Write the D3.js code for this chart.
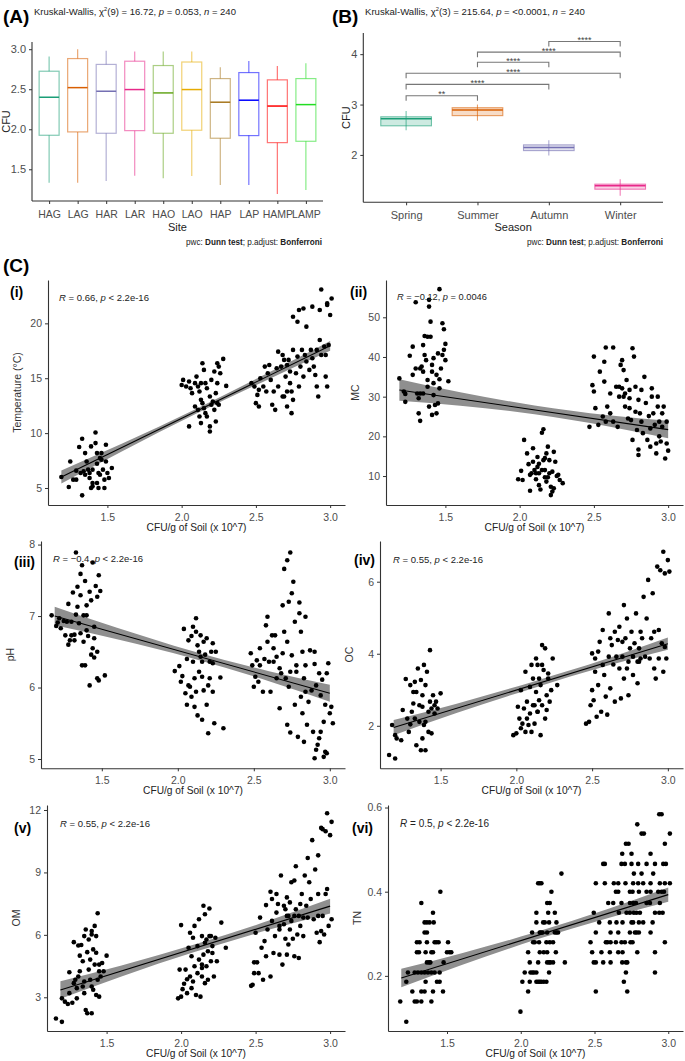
<!DOCTYPE html>
<html><head><meta charset="utf-8">
<script src="https://cdn.jsdelivr.net/npm/d3@7"></script>
<style>body{margin:0;background:#fff}svg{display:block}text{font-family:"Liberation Sans Narrow","Liberation Sans",Arial,sans-serif}</style>
</head><body><svg id="c" width="685" height="1061"></svg>
<script>
// ---------- Panel A data ----------
const sites = ["HAG","LAG","HAR","LAR","HAO","LAO","HAP","LAP","HAMP","LAMP"];
const siteColors = ["#1b9e77","#d95f02","#7570b3","#e7298a","#66a61e","#e6ab02","#a6761d","#0000ff","#ff0000","#22dd22"];
const siteLow  = [1.333,1.333,1.354,1.42,1.387,1.417,1.304,1.304,1.19,1.242];
const siteQ1   = [1.925,1.967,1.95,1.983,1.95,1.988,1.888,1.921,1.833,1.85];
const siteMed  = [2.40,2.52,2.475,2.496,2.454,2.496,2.338,2.363,2.29,2.308];
const siteQ3   = [2.725,2.883,2.81,2.85,2.796,2.84,2.633,2.708,2.617,2.633];
const siteHigh = [2.908,3.0,2.98,2.97,2.97,2.97,2.775,2.854,2.79,2.825];
const siteTicks = [1.5,2.0,2.5,3.0];

// ---------- Panel B data ----------
const seasons = ["Spring","Summer","Autumn","Winter"];
const seasonColors = ["#1b9e77","#d95f02","#7570b3","#e7298a"];
const seasonLow  = [2.49,2.68,1.99,1.19];
const seasonQ1   = [2.578,2.78,2.086,1.32];
const seasonMed  = [2.717,2.89,2.146,1.39];
const seasonQ3   = [2.757,2.937,2.2,1.42];
const seasonHigh = [2.87,3.0,2.29,1.515];
const seasonTicks = [2,3,4];
const brackets = [["Spring","Summer",3.176,"**"],["Spring","Autumn",3.40,"****"],["Spring","Winter",3.62,"****"],["Summer","Autumn",3.84,"****"],["Summer","Winter",4.04,"****"],["Autumn","Winter",4.25,"****"]];

// ---------- Panel C data ----------
const cfuTicks = [1.5,2.0,2.5,3.0];
const tempPts = [[1.19,6.0],[1.24,5.09],[1.25,7.42],[1.29,6.58],[1.31,8.73],[1.33,9.48],[1.33,4.33],[1.35,8.18],[1.36,7.42],[1.37,6.67],[1.38,6.36],[1.38,5.91],[1.39,8.79],[1.40,5.45],[1.40,6.67],[1.42,10.06],[1.42,9.09],[1.43,8.18],[1.43,7.21],[1.44,6.36],[1.44,5.0],[1.45,6.21],[1.46,7.58],[1.47,6.67],[1.48,5.76],[1.49,8.94],[1.49,7.42],[1.50,6.36],[1.51,5.91],[1.53,6.82],[1.32,6.36],[1.34,6.52],[1.29,5.76],[1.27,5.76],[1.35,6.21],[1.40,5.15],[1.43,5.45],[1.39,5.0],[1.48,5.0],[1.45,7.73],[1.46,8.18],
[2.0,14.39],[2.01,14.85],[2.03,14.24],[2.05,14.7],[2.06,14.09],[2.07,13.64],[2.09,14.55],[2.10,15.15],[2.11,14.24],[2.12,13.79],[2.13,14.55],[2.14,16.36],[2.15,15.76],[2.16,14.55],[2.17,14.09],[2.19,13.33],[2.20,14.85],[2.22,15.61],[2.24,16.36],[2.25,16.06],[2.26,15.45],[2.28,16.76],[2.30,14.3],[2.24,14.55],[2.23,13.64],[2.05,10.61],[2.11,12.12],[2.12,11.52],[2.13,10.91],[2.14,12.73],[2.15,12.27],[2.16,11.82],[2.17,11.52],[2.19,10.61],[2.19,10.15],[2.20,12.58],[2.21,12.88],[2.22,12.12],[2.23,11.06],[2.24,12.73],[2.25,12.58],[2.13,13.03],[2.09,12.42],
[2.47,14.55],[2.49,14.24],[2.50,12.73],[2.51,13.48],[2.52,12.42],[2.53,15.0],[2.55,14.24],[2.57,13.79],[2.58,15.45],[2.59,16.21],[2.60,14.85],[2.61,12.58],[2.62,13.79],[2.63,12.12],[2.64,15.91],[2.65,14.24],[2.67,16.06],[2.68,17.12],[2.69,13.33],[2.70,15.15],[2.71,12.42],[2.72,16.67],[2.73,14.55],[2.74,13.79],[2.75,13.03],[2.77,15.45],[2.78,16.97],[2.75,20.6],[2.79,21.21],[2.82,21.36],[2.88,21.52],[2.78,20.15],[2.84,19.7],[2.94,23.09],[2.93,21.21],[2.98,21.67],[3.01,22.27],[3.0,20.76],[2.98,21.82],[2.79,14.24],[2.80,16.06],[2.81,17.58],[2.82,15.15],[2.83,17.12],[2.84,16.52],[2.86,15.76],[2.87,17.58],[2.88,16.82],[2.89,16.06],[2.90,15.3],[2.91,17.58],[2.91,14.24],[2.92,13.33],[2.93,18.48],[2.94,17.12],[2.96,17.88],[2.97,15.15],[2.97,17.12],[2.98,14.24],[2.99,18.03],[2.73,15.61],[2.71,16.21],[2.69,16.67],[2.65,17.42],[2.75,17.58],[2.71,13.79],[2.68,13.33],[2.74,11.82],[2.56,16.06],[2.52,13.94]];
const mcPts = [[1.19,34.6],[1.22,31.3],[1.23,30.7],[1.23,28.7],[1.28,35.5],[1.28,42.6],[1.26,40.3],[1.30,53.8],[1.30,37.1],[1.31,30.8],[1.32,29.6],[1.32,25.8],[1.33,23.9],[1.33,37.1],[1.34,37.6],[1.35,36.3],[1.35,43.0],[1.36,45.3],[1.36,40.5],[1.37,39.2],[1.38,34.2],[1.38,32.5],[1.39,52.7],[1.39,54.4],[1.40,45.1],[1.40,48.9],[1.41,38.0],[1.41,36.3],[1.42,33.4],[1.42,30.4],[1.43,27.9],[1.39,27.5],[1.41,25.4],[1.44,25.8],[1.44,35.5],[1.45,40.9],[1.46,57.1],[1.46,34.4],[1.46,32.1],[1.47,37.1],[1.48,40.5],[1.48,48.5],[1.49,47.0],[1.49,41.8],[1.50,39.2],[1.50,43.3],[1.52,33.9],[1.45,28.3],[1.35,30.8],[1.38,45.1],[1.33,30.8],[1.42,39.7],
[1.99,9.2],[2.02,9.0],[2.03,19.1],[2.01,11.3],[2.05,15.7],[2.06,13.0],[2.07,10.3],[2.07,6.3],[2.09,17.0],[2.09,13.6],[2.10,11.5],[2.11,9.2],[2.12,14.8],[2.12,12.3],[2.13,10.7],[2.13,7.7],[2.14,6.6],[2.15,20.9],[2.16,21.8],[2.16,14.0],[2.17,11.5],[2.17,9.7],[2.18,8.6],[2.18,15.7],[2.19,17.4],[2.20,14.0],[2.20,10.7],[2.21,7.3],[2.21,5.2],[2.22,6.1],[2.22,11.1],[2.23,6.9],[2.23,16.1],[2.24,13.6],[2.25,10.0],[2.26,10.3],[2.27,9.0],[2.29,8.2],[2.17,14.5],[2.13,13.1],[2.11,10.7],[2.08,10.7],[2.19,9.7],[2.15,11.5],
[2.47,22.4],[2.49,32.9],[2.50,31.3],[2.50,40.1],[2.51,27.1],[2.53,22.9],[2.54,36.3],[2.56,25.0],[2.57,33.8],[2.58,23.7],[2.59,27.5],[2.61,30.8],[2.61,25.8],[2.63,23.7],[2.58,42.4],[2.63,42.4],[2.65,32.5],[2.66,22.4],[2.67,30.0],[2.76,42.2],[2.69,32.1],[2.69,39.2],[2.70,36.7],[2.71,27.5],[2.72,34.2],[2.73,24.5],[2.74,31.7],[2.74,29.6],[2.75,24.1],[2.76,19.1],[2.77,40.1],[2.78,32.5],[2.78,26.2],[2.79,21.6],[2.80,16.7],[2.80,15.3],[2.80,29.2],[2.81,25.8],[2.82,31.7],[2.82,23.7],[2.83,20.8],[2.84,35.0],[2.85,28.4],[2.86,19.1],[2.87,25.1],[2.88,22.0],[2.88,17.4],[2.89,30.0],[2.89,32.1],[2.90,25.8],[2.91,22.9],[2.92,18.2],[2.92,15.7],[2.93,27.5],[2.93,30.0],[2.94,23.7],[2.94,20.0],[2.95,18.7],[2.96,25.8],[2.96,22.4],[2.97,27.5],[2.98,14.4],[2.99,18.2],[2.99,23.7],[3.00,16.4],[2.68,38.0],[2.57,38.8],[2.71,30.8],[2.74,27.1],[2.70,30.0],[2.67,32.5]];
const phPts = [[1.17,7.01],[1.20,6.86],[1.21,6.91],[1.22,6.97],[1.23,6.83],[1.25,6.93],[1.26,6.73],[1.27,6.92],[1.28,7.17],[1.28,6.6],[1.29,6.66],[1.30,6.92],[1.31,7.33],[1.32,6.66],[1.32,6.74],[1.33,7.89],[1.33,7.02],[1.34,7.41],[1.34,7.13],[1.35,6.9],[1.36,7.59],[1.36,7.29],[1.37,6.31],[1.37,7.71],[1.38,6.64],[1.38,7.01],[1.39,7.49],[1.39,6.31],[1.40,7.15],[1.40,6.8],[1.41,6.72],[1.42,6.03],[1.42,7.34],[1.43,6.46],[1.43,7.22],[1.44,6.55],[1.44,7.75],[1.45,6.85],[1.45,6.42],[1.46,7.42],[1.47,6.13],[1.47,7.27],[1.48,7.57],[1.48,6.1],[1.49,7.35],[1.47,6.5],[1.52,6.17],[1.40,7.01],[1.36,6.76],[1.30,6.73],[1.45,6.69],
[1.98,6.23],[2.01,6.3],[2.02,6.08],[2.03,6.16],[2.04,6.82],[2.05,5.92],[2.06,5.76],[2.06,6.4],[2.07,6.66],[2.07,6.03],[2.08,6.01],[2.09,5.87],[2.09,6.72],[2.10,6.36],[2.10,6.85],[2.11,5.73],[2.11,6.13],[2.12,6.97],[2.12,6.78],[2.13,5.61],[2.14,6.5],[2.14,6.22],[2.15,6.73],[2.15,6.43],[2.16,5.55],[2.16,6.15],[2.17,6.64],[2.17,5.96],[2.18,6.46],[2.19,6.69],[2.19,5.76],[2.20,6.03],[2.20,5.36],[2.21,6.36],[2.21,6.13],[2.22,6.5],[2.23,6.62],[2.23,5.94],[2.23,6.34],[2.24,5.5],[2.25,6.5],[2.28,6.14],[2.30,5.43],[2.12,5.94],[2.16,6.36],[2.13,6.59],
[2.48,6.48],[2.49,6.31],[2.50,6.01],[2.51,6.15],[2.52,6.38],[2.53,6.08],[2.54,6.55],[2.54,6.31],[2.56,5.94],[2.57,6.4],[2.58,6.87],[2.59,6.99],[2.59,6.64],[2.60,6.36],[2.61,5.94],[2.62,6.73],[2.63,6.55],[2.63,6.36],[2.64,6.73],[2.65,6.13],[2.65,6.43],[2.67,6.27],[2.67,5.71],[2.68,6.2],[2.69,6.48],[2.69,7.15],[2.70,7.66],[2.70,6.78],[2.71,6.13],[2.72,5.48],[2.72,7.78],[2.73,6.01],[2.73,7.2],[2.74,5.37],[2.74,7.89],[2.75,7.32],[2.75,6.45],[2.76,7.48],[2.77,6.92],[2.77,5.76],[2.78,6.22],[2.78,6.31],[2.79,5.31],[2.80,7.04],[2.80,7.19],[2.81,5.87],[2.81,6.78],[2.82,6.5],[2.82,5.64],[2.83,6.13],[2.83,5.24],[2.84,5.94],[2.84,6.31],[2.85,5.48],[2.86,5.8],[2.87,6.52],[2.88,5.96],[2.89,5.38],[2.90,5.01],[2.90,6.33],[2.91,6.03],[2.91,5.13],[2.92,5.2],[2.93,6.2],[2.93,5.29],[2.94,5.89],[2.94,5.38],[2.95,6.11],[2.96,5.03],[2.96,5.52],[2.97,5.76],[2.97,5.1],[2.98,6.2],[2.98,5.08],[2.99,6.34],[3.00,5.64],[3.01,5.73],[3.02,5.5],[2.84,6.99],[2.90,6.5],[2.72,6.64],[2.74,6.22]];
const ocPts = [[1.16,1.19],[1.20,1.09],[1.18,2.02],[1.20,1.74],[1.21,1.65],[1.24,1.6],[1.25,2.44],[1.27,3.3],[1.28,2.2],[1.29,1.83],[1.30,2.04],[1.30,3.13],[1.31,2.39],[1.32,2.62],[1.33,2.2],[1.33,3.22],[1.34,2.94],[1.34,1.46],[1.35,3.59],[1.36,2.57],[1.36,2.11],[1.37,3.27],[1.37,1.32],[1.38,2.85],[1.38,2.53],[1.39,2.02],[1.39,3.69],[1.40,1.32],[1.40,3.13],[1.41,3.5],[1.42,2.39],[1.42,1.83],[1.43,2.67],[1.43,4.1],[1.44,1.79],[1.44,2.48],[1.45,2.85],[1.46,2.34],[1.46,2.57],[1.47,2.67],[1.48,2.48],[1.50,2.9],[1.32,2.94],[1.38,1.65],[1.40,2.11],
[1.98,1.74],[2.0,1.79],[2.01,2.53],[2.02,2.2],[2.03,1.93],[2.03,2.99],[2.04,2.06],[2.05,2.48],[2.06,1.83],[2.06,3.5],[2.07,2.2],[2.07,2.67],[2.08,2.02],[2.09,3.08],[2.09,2.34],[2.10,1.83],[2.10,3.69],[2.11,2.57],[2.11,3.31],[2.12,2.06],[2.13,3.87],[2.13,2.94],[2.14,2.39],[2.14,3.69],[2.15,2.71],[2.15,3.31],[2.16,1.74],[2.16,3.13],[2.17,2.57],[2.17,4.24],[2.18,3.55],[2.19,2.2],[2.19,4.15],[2.20,2.85],[2.20,2.44],[2.21,3.31],[2.21,3.45],[2.22,2.67],[2.23,2.99],[2.24,3.87],[2.27,3.13],[2.17,3.69],[2.12,2.57],[2.14,2.39],
[2.46,2.06],[2.48,2.11],[2.49,2.57],[2.50,2.99],[2.50,4.01],[2.51,2.71],[2.52,3.5],[2.52,3.87],[2.53,2.25],[2.54,3.13],[2.54,4.06],[2.55,4.33],[2.56,2.39],[2.57,3.69],[2.57,4.66],[2.58,3.41],[2.59,2.81],[2.60,2.31],[2.61,3.92],[2.61,5.12],[2.62,4.43],[2.62,3.04],[2.63,4.24],[2.64,3.7],[2.65,4.61],[2.65,2.67],[2.66,3.92],[2.67,4.38],[2.68,3.59],[2.68,4.75],[2.69,2.76],[2.70,3.92],[2.71,5.35],[2.71,3.31],[2.72,4.43],[2.73,4.98],[2.73,3.59],[2.74,2.85],[2.75,4.15],[2.76,4.61],[2.77,3.41],[2.77,3.92],[2.78,4.29],[2.79,5.12],[2.80,3.78],[2.80,3.18],[2.81,4.15],[2.82,4.61],[2.82,3.87],[2.83,4.43],[2.84,5.58],[2.85,3.92],[2.86,4.98],[2.87,6.05],[2.88,3.87],[2.89,4.43],[2.90,5.68],[2.91,3.59],[2.91,4.61],[2.92,3.31],[2.93,6.42],[2.94,4.66],[2.94,3.87],[2.95,6.32],[2.96,4.29],[2.97,3.5],[2.97,6.83],[2.98,4.19],[2.98,6.23],[2.99,3.87],[3.00,6.6],[3.01,6.28],[2.81,3.78],[2.74,3.78],[2.70,4.33]];
const omPts = [[1.16,1.98],[1.20,1.82],[1.20,2.95],[1.22,2.79],[1.24,2.68],[1.25,3.2],[1.25,4.2],[1.27,2.74],[1.28,5.65],[1.28,3.68],[1.29,3.84],[1.30,2.95],[1.30,3.44],[1.31,5.49],[1.31,4.0],[1.32,5.0],[1.32,4.25],[1.33,5.51],[1.34,3.52],[1.34,4.73],[1.35,3.2],[1.35,3.76],[1.36,6.26],[1.36,2.39],[1.37,5.17],[1.37,2.23],[1.38,5.78],[1.38,4.33],[1.39,4.81],[1.39,3.84],[1.40,3.52],[1.40,2.23],[1.40,6.02],[1.41,5.3],[1.41,3.36],[1.42,6.43],[1.42,4.57],[1.43,3.11],[1.43,5.14],[1.44,7.04],[1.44,3.84],[1.45,4.25],[1.45,3.03],[1.45,4.57],[1.46,4.0],[1.47,4.65],[1.48,4.25],[1.50,5.0],[1.35,5.94],[1.40,6.18],[1.43,5.94],
[1.98,2.95],[2.0,3.03],[1.99,4.33],[2.0,6.47],[2.01,3.39],[2.02,3.65],[2.03,4.33],[2.04,3.87],[2.04,3.2],[2.05,5.38],[2.06,4.0],[2.06,6.1],[2.07,3.44],[2.07,4.97],[2.08,5.86],[2.08,3.76],[2.09,6.43],[2.09,4.49],[2.10,3.11],[2.11,5.46],[2.11,4.16],[2.12,6.75],[2.12,4.81],[2.13,3.03],[2.14,4.41],[2.14,4.0],[2.14,5.94],[2.15,7.4],[2.15,5.05],[2.16,5.62],[2.16,6.99],[2.17,4.49],[2.17,5.78],[2.18,3.84],[2.18,5.21],[2.19,5.94],[2.19,7.27],[2.20,4.73],[2.20,5.94],[2.21,5.46],[2.21,5.13],[2.22,4.0],[2.23,5.86],[2.24,4.73],[2.27,6.59],[2.30,5.38],[2.14,4.57],[2.16,3.68],
[2.47,3.55],[2.48,3.6],[2.49,4.16],[2.49,4.68],[2.50,6.1],[2.51,4.68],[2.52,4.16],[2.53,6.83],[2.54,5.38],[2.55,3.84],[2.56,5.7],[2.57,4.97],[2.57,7.43],[2.58,6.26],[2.60,8.07],[2.60,4.0],[2.61,6.67],[2.61,7.72],[2.62,5.13],[2.63,5.94],[2.64,7.96],[2.64,7.07],[2.65,7.48],[2.66,6.26],[2.66,5.05],[2.67,8.85],[2.68,4.57],[2.69,7.4],[2.69,6.51],[2.70,5.81],[2.71,5.05],[2.71,7.8],[2.72,6.91],[2.72,5.54],[2.73,6.26],[2.73,7.56],[2.74,8.53],[2.74,6.67],[2.75,5.81],[2.76,4.97],[2.76,8.61],[2.77,9.3],[2.77,7.23],[2.78,6.02],[2.79,6.91],[2.79,4.89],[2.80,6.43],[2.80,7.48],[2.81,7.96],[2.82,6.83],[2.82,5.94],[2.83,8.85],[2.84,7.4],[2.85,9.69],[2.86,8.53],[2.87,7.72],[2.88,10.55],[2.89,6.75],[2.90,9.14],[2.91,6.1],[2.92,9.82],[2.92,7.96],[2.93,5.65],[2.94,11.14],[2.95,6.91],[2.95,11.08],[2.96,6.02],[2.97,7.96],[2.97,10.98],[2.98,8.2],[2.98,11.84],[2.99,6.43],[3.00,10.79],[3.01,11.43],[3.01,6.75],[2.76,6.91],[2.71,6.91],[2.70,7.23],[2.66,6.43],[2.85,6.83],[2.92,6.91],[2.94,6.18]];
// TN rows: [TN value, CFU values]
const tnRows = [
 [0.584,[2.939,2.955]],[0.56,[2.79]],[0.538,[2.819,2.835,3.011]],[0.514,[2.713,2.731,2.977]],[0.49,[2.688,2.751,2.88]],
 [0.466,[2.559,2.57,2.683,2.706,2.751,2.796,2.853,2.91,2.966,2.984]],[0.443,[2.276,2.767,2.819,2.898]],
 [0.42,[2.118,2.129,2.14,2.509,2.57,2.631,2.661,2.71,2.762,2.796,2.83,2.88,2.943,2.977,3.011]],
 [0.40,[1.455,2.208,2.645,2.661,2.74,2.758,2.801,2.853,2.88,2.932,2.955,2.971]],
 [0.373,[1.326,2.179,2.197,2.593,2.627,2.683,2.74,2.762,2.781,2.853,2.876,2.943]],
 [0.35,[1.405,2.106,2.186,2.231,2.495,2.665,2.717,2.74,2.767,2.785,2.808,2.91,2.939,2.962]],
 [0.327,[1.348,1.364,1.382,1.41,2.106,2.152,2.163,2.192,2.242,2.532,2.604,2.649,2.69,2.751,2.762,2.801,2.83,2.894]],
 [0.303,[1.348,1.364,2.077,2.129,2.136,2.147,2.179,2.231,2.242,2.253,2.509,2.609,2.661,2.74,2.774,2.785,2.801,2.88]],
 [0.28,[1.296,1.314,1.364,1.416,1.428,1.443,1.507,2.084,2.095,2.124,2.174,2.197,2.219,2.473,2.577,2.588,2.609,2.645,2.683,2.706,2.744,2.758,2.977]],
 [0.256,[1.296,1.31,1.355,1.394,1.405,1.5,1.518,1.529,2.05,2.129,2.156,2.179,2.238,2.484,2.547,2.604,2.661,2.69,2.79,2.91]],
 [0.232,[1.364,1.378,1.387,1.477,2.061,2.118,2.179,2.192,2.201,2.219,2.299,2.495,2.509,2.559,2.609,2.688,2.713,2.722]],
 [0.208,[1.235,1.281,1.303,1.326,1.348,1.371,1.394,1.416,1.45,2.027,2.066,2.079,2.09,2.106,2.192,2.713,2.91]],
 [0.186,[1.224,1.355,1.432,1.45,2.011,2.061,2.106,2.118,2.129,2.14,2.156,2.174,2.699]],
 [0.163,[1.265,1.326,1.348,1.405,1.473,2.05,2.509,2.722]],
 [0.139,[1.183,1.281,1.296,1.326,1.394]],[0.115,[1.998]],[0.091,[1.224]]
];

// Fitted lines (value at CFU 1.19 and 3.0) and CI half-widths at ciX
const ciX = [1.19,1.6,2.1,2.6,3.0];
const fits = {
  temp:{y0:6.0,y1:17.95,ci:[0.6,0.35,0.22,0.3,0.45]},
  mc:{y0:31.7,y1:21.7,ci:[2.7,1.7,1.1,1.4,2.2]},
  ph:{y0:7.0,y1:5.92,ci:[0.13,0.08,0.05,0.07,0.12]},
  oc:{y0:1.95,y1:4.28,ci:[0.21,0.13,0.09,0.1,0.17]},
  om:{y0:3.35,y1:7.38,ci:[0.42,0.26,0.18,0.22,0.35]},
  tn:{y0:0.195,y1:0.393,ci:[0.022,0.014,0.009,0.011,0.017]}
};

const svg = d3.select("#c");
const AXC = "#333", TKC = "#4d4d4d";

// shrink/grow a text's font-size so its width matches the target (capped)
function fitWidth(t, target, maxFs){
  const w = t.node().getComputedTextLength();
  const fs = parseFloat(t.style("font-size"));
  t.style("font-size", Math.min(maxFs, fs*target/w).toFixed(2)+"px");
}

// ============ Panel A ============
(function(){
  const L=32,R=323,T=42,B=201;
  const x = d3.scalePoint().domain(sites).range([L,R]).padding(0.6);
  const y = d3.scaleLinear().domain([1.104,3.09]).range([B,T]);
  const bw = x.step()*0.7;
  const g = svg.append("g");
  const yAx = g.append("g").attr("transform",`translate(${L},0)`).call(d3.axisLeft(y).tickValues(siteTicks).tickFormat(d3.format(".1f")).tickSize(3).tickSizeOuter(0));
  const xAx = g.append("g").attr("transform",`translate(0,${B})`).call(d3.axisBottom(x).tickSize(3).tickSizeOuter(0));
  [yAx,xAx].forEach(a=>{a.select(".domain").attr("stroke",AXC).attr("stroke-width",1.1).attr("d", a===yAx?`M0,${T}V${B}`:`M${L},0H${R}`);a.selectAll(".tick line").attr("stroke",AXC);a.selectAll("text").attr("fill",TKC).style("font-size","11px").style("font-family","Liberation Sans, Arial, sans-serif");});
  xAx.selectAll("text").attr("dy","1.0em").style("font-size","10.5px");
  sites.forEach((s,i)=>{
    const cx=x(s), c=siteColors[i];
    const gg=g.append("g");
    gg.append("line").attr("x1",cx).attr("x2",cx).attr("y1",y(siteHigh[i])).attr("y2",y(siteQ3[i])).attr("stroke",c).attr("stroke-opacity",0.55).attr("stroke-width",1.2);
    gg.append("line").attr("x1",cx).attr("x2",cx).attr("y1",y(siteQ1[i])).attr("y2",y(siteLow[i])).attr("stroke",c).attr("stroke-opacity",0.55).attr("stroke-width",1.2);
    gg.append("rect").attr("x",cx-bw/2).attr("width",bw).attr("y",y(siteQ3[i])).attr("height",y(siteQ1[i])-y(siteQ3[i])).attr("fill","none").attr("stroke",c).attr("stroke-opacity",0.55).attr("stroke-width",1.2);
    gg.append("line").attr("x1",cx-bw/2).attr("x2",cx+bw/2).attr("y1",y(siteMed[i])).attr("y2",y(siteMed[i])).attr("stroke",c).attr("stroke-width",1.5);
  });
  g.append("text").attr("x",(L+R)/2).attr("y",231).attr("text-anchor","middle").style("font-size","11px").style("font-family","Liberation Sans, Arial").attr("fill","#222").text("Site");
  g.append("text").attr("transform",`translate(10,${(T+B)/2}) rotate(-90)`).attr("text-anchor","middle").style("font-size","11px").style("font-family","Liberation Sans, Arial").attr("fill","#222").text("CFU");
})();

// ============ Panel B ============
(function(){
  const L=363.3,R=663,T=33,B=202.3;
  const x = d3.scalePoint().domain(seasons).range([L,R]).padding(0.6);
  const y = d3.scaleLinear().domain([1.06,4.42]).range([B,T]);
  const bw = x.step()*0.71;
  const g = svg.append("g");
  const yAx = g.append("g").attr("transform",`translate(${L},0)`).call(d3.axisLeft(y).tickValues(seasonTicks).tickFormat(d3.format("d")).tickSize(3).tickSizeOuter(0));
  const xAx = g.append("g").attr("transform",`translate(0,${B})`).call(d3.axisBottom(x).tickSize(3).tickSizeOuter(0));
  [yAx,xAx].forEach(a=>{a.select(".domain").attr("stroke",AXC).attr("stroke-width",1.1).attr("d", a===yAx?`M0,${T}V${B}`:`M${L},0H${R}`);a.selectAll(".tick line").attr("stroke",AXC);a.selectAll("text").attr("fill",TKC).style("font-size","11px").style("font-family","Liberation Sans, Arial, sans-serif");});
  xAx.selectAll("text").attr("dy","1.0em");
  seasons.forEach((s,i)=>{
    const cx=x(s), c=seasonColors[i];
    g.append("line").attr("x1",cx).attr("x2",cx).attr("y1",y(seasonHigh[i])).attr("y2",y(seasonLow[i])).attr("stroke",c).attr("stroke-opacity",0.6).attr("stroke-width",1.1);
    g.append("rect").attr("x",cx-bw/2).attr("width",bw).attr("y",y(seasonQ3[i])).attr("height",y(seasonQ1[i])-y(seasonQ3[i])).attr("fill",c).attr("fill-opacity",0.22).attr("stroke",c).attr("stroke-opacity",0.6).attr("stroke-width",1.1);
    g.append("line").attr("x1",cx-bw/2).attr("x2",cx+bw/2).attr("y1",y(seasonMed[i])).attr("y2",y(seasonMed[i])).attr("stroke",c).attr("stroke-width",1.5);
  });
  brackets.forEach(([a,b,v,lab])=>{
    const yy=y(v), x1=x(a), x2=x(b);
    g.append("path").attr("d",`M${x1},${yy+5}V${yy}H${x2}V${yy+5}`).attr("fill","none").attr("stroke","#777").attr("stroke-width",1.1);
    g.append("text").attr("x",(x1+x2)/2).attr("y",yy+1.5).attr("text-anchor","middle").style("font-size","9px").style("font-family","Liberation Sans, Arial").attr("fill","#444").text(lab);
  });
  g.append("text").attr("x",(L+R)/2).attr("y",231).attr("text-anchor","middle").style("font-size","11px").style("font-family","Liberation Sans, Arial").attr("fill","#222").text("Season");
  g.append("text").attr("transform",`translate(350,${(T+B)/2}) rotate(-90)`).attr("text-anchor","middle").style("font-size","11px").style("font-family","Liberation Sans, Arial").attr("fill","#222").text("CFU");
})();

// Titles A/B/C
function chiTitle(xp, yp, df, stat, pPart, len){
  const t=svg.append("text").attr("x",xp).attr("y",yp).style("font-size","11.5px").attr("fill","#222");
  t.append("tspan").text("Kruskal-Wallis, χ");
  t.append("tspan").attr("dy",-4.5).style("font-size","0.6em").text("2");
  t.append("tspan").attr("dy",4.5).text(`(${df}) = ${stat}, `);
  t.append("tspan").style("font-style","italic").text("p");
  t.append("tspan").text(` = ${pPart}, `);
  t.append("tspan").style("font-style","italic").text("n");
  t.append("tspan").text(" = 240");
  fitWidth(t,len,11.5);
}
svg.append("text").attr("x",3).attr("y",23).style("font-size","19px").style("font-weight","bold").style("font-family","Liberation Sans, Arial").text("(A)");
chiTitle(34,15,9,"16.72","0.053",202);
svg.append("text").attr("x",332).attr("y",23).style("font-size","19px").style("font-weight","bold").style("font-family","Liberation Sans, Arial").text("(B)");
chiTitle(365,15,3,"215.64","<0.0001",220);
function pwc(xr,yp){
  const t=svg.append("text").attr("x",xr).attr("y",yp).attr("text-anchor","end").style("font-size","9px").attr("fill","#222");
  t.append("tspan").text("pwc: ");
  t.append("tspan").style("font-weight","bold").text("Dunn test");
  t.append("tspan").text("; p.adjust: ");
  t.append("tspan").style("font-weight","bold").text("Bonferroni");
  fitWidth(t,136,9);
}
pwc(322,245); pwc(663,245);
svg.append("text").attr("x",3).attr("y",272).style("font-size","19px").style("font-weight","bold").style("font-family","Liberation Sans, Arial").text("(C)");

// ============ Panel C scatter panels ============
const tnPts = tnRows.flatMap(([v,xs])=>xs.map(xv=>[xv,v]));
const panels = [
  {pts:tempPts, fit:fits.temp, L:48, R:345, T:280, B:505, yd:[3.45,23.95], yt:[5,10,15,20], yf:"d", ylab:"Temperature (°C)", tag:"(i)", tagX:10, tagY:297, rx:59, ry:301, r:"0.66", pr:"< 2.2e-16"},
  {pts:mcPts, fit:fits.mc, L:386, R:683, T:280, B:505, yd:[2.7,59.4], yt:[10,20,30,40,50], yf:"d", ylab:"MC", tag:"(ii)", tagX:350, tagY:297, rx:397, ry:300, r:"−0.12", pr:"= 0.0046"},
  {pts:phPts, fit:fits.ph, L:41, R:345, T:541, B:768.3, yd:[4.87,8.05], yt:[5,6,7,8], yf:"d", ylab:"pH", tag:"(iii)", tagX:14, tagY:567, rx:53, ry:562, r:"−0.4", pr:"< 2.2e-16"},
  {pts:ocPts, fit:fits.oc, L:380, R:683, T:541, B:768.3, yd:[0.82,7.13], yt:[2,4,6], yf:"d", ylab:"OC", tag:"(iv)", tagX:354, tagY:565, rx:393, ry:563, r:"0.55", pr:"< 2.2e-16"},
  {pts:omPts, fit:fits.om, L:47, R:345, T:805, B:1031, yd:[1.38,12.24], yt:[3,6,9,12], yf:"d", ylab:"OM", tag:"(v)", tagX:14, tagY:833, rx:60, ry:827, r:"0.55", pr:"< 2.2e-16"},
  {pts:tnPts, fit:fits.tn, L:388, R:683, T:805, B:1031, yd:[0.069,0.606], yt:[0.2,0.4,0.6], yf:".1f", ylab:"TN", tag:"(vi)", tagX:352, tagY:833, rx:400, ry:827, r:"0.5", pr:"< 2.2e-16"}
];
panels.forEach(p=>{
  const g=svg.append("g");
  const x=d3.scaleLinear().domain([1.1,3.1]).range([p.L,p.R]);
  const y=d3.scaleLinear().domain(p.yd).range([p.B,p.T]);
  const lin = xv => p.fit.y0 + (p.fit.y1-p.fit.y0)*(xv-1.19)/(3.0-1.19);
  const band = ciX.map((xv,i)=>({x:xv, lo:lin(xv)-p.fit.ci[i], hi:lin(xv)+p.fit.ci[i]}));
  g.append("path").datum(band).attr("d",d3.area().x(d=>x(d.x)).y0(d=>y(d.lo)).y1(d=>y(d.hi)).curve(d3.curveMonotoneX)).attr("fill","#8f8f8f");
  g.selectAll("circle").data(p.pts).join("circle").attr("cx",d=>x(d[0])).attr("cy",d=>y(d[1])).attr("r",2.3).attr("fill","#000");
  g.append("line").attr("x1",x(1.19)).attr("x2",x(3.0)).attr("y1",y(p.fit.y0)).attr("y2",y(p.fit.y1)).attr("stroke","#000").attr("stroke-width",1.1);
  const yAx=g.append("g").attr("transform",`translate(${p.L},0)`).call(d3.axisLeft(y).tickValues(p.yt).tickFormat(d3.format(p.yf)).tickSize(3).tickSizeOuter(0));
  const xAx=g.append("g").attr("transform",`translate(0,${p.B})`).call(d3.axisBottom(x).tickValues(cfuTicks).tickFormat(d3.format(".1f")).tickSize(3).tickSizeOuter(0));
  [yAx,xAx].forEach(a=>{a.select(".domain").attr("stroke",AXC).attr("stroke-width",1.1);a.selectAll(".tick line").attr("stroke",AXC);a.selectAll("text").attr("fill",TKC).style("font-size","10.5px");});
  xAx.selectAll("text").attr("dy","0.95em");
  const xt=g.append("text").attr("x",(p.L+p.R)/2).attr("y",p.B+25.5).attr("text-anchor","middle").style("font-size","10.5px").attr("fill","#222").text("CFU/g of Soil (x 10^7)");
  fitWidth(xt,100,10.5);
  g.append("text").attr("transform",`translate(${p.L-27},${(p.T+p.B)/2}) rotate(-90)`).attr("text-anchor","middle").style("font-size","10.5px").attr("fill","#333").text(p.ylab);
  g.append("text").attr("x",p.tagX).attr("y",p.tagY).style("font-size","14px").style("font-weight","bold").style("font-family","Liberation Sans, Arial").text(p.tag);
  const rt=g.append("text").attr("x",p.rx).attr("y",p.ry).style("font-size","10px").attr("fill","#222");
  rt.append("tspan").style("font-style","italic").text("R");
  rt.append("tspan").text(` = ${p.r}, `);
  rt.append("tspan").style("font-style","italic").text("p");
  rt.append("tspan").text(` ${p.pr}`);
  fitWidth(rt,90,10);
});
</script></body></html>
